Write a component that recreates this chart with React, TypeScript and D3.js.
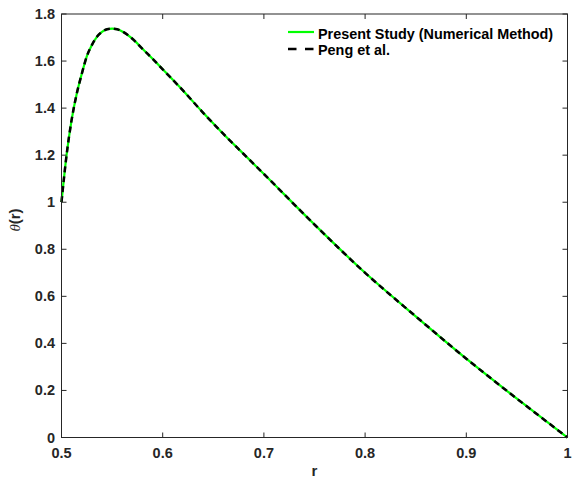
import React from "react";
import * as d3 from "d3";

const rValues = [0.5, 0.505, 0.51, 0.515, 0.52, 0.525, 0.53, 0.535, 0.54, 0.545, 0.55, 0.555, 0.56, 0.57, 0.58, 0.59, 0.6, 0.62, 0.64, 0.66, 0.68, 0.7, 0.75, 0.8, 0.85, 0.9, 0.95, 1.0];
const presentStudy = [1.0, 1.2, 1.35, 1.46, 1.545, 1.62, 1.668, 1.703, 1.724, 1.735, 1.738, 1.735, 1.726, 1.695, 1.652, 1.61, 1.565, 1.475, 1.38, 1.29, 1.205, 1.12, 0.905, 0.70, 0.515, 0.335, 0.165, 0.0];
const pengEtAl = [1.0, 1.2, 1.35, 1.46, 1.545, 1.62, 1.668, 1.703, 1.724, 1.735, 1.738, 1.735, 1.726, 1.695, 1.652, 1.61, 1.565, 1.475, 1.38, 1.29, 1.205, 1.12, 0.905, 0.70, 0.515, 0.335, 0.165, 0.0];
const xTicks = [0.5, 0.6, 0.7, 0.8, 0.9, 1];
const yTicks = [0, 0.2, 0.4, 0.6, 0.8, 1, 1.2, 1.4, 1.6, 1.8];
const legendLabels = ["Present Study (Numerical Method)", "Peng et al."];

const W = 574;
const H = 480;
const L = 61.5, R = 567.5, T = 14, B = 437.5;
const FONT = "'Liberation Sans', Arial, sans-serif";
const AX = "#262626";

export default function App() {
  const x = d3.scaleLinear().domain([0.5, 1]).range([L, R]);
  const y = d3.scaleLinear().domain([0, 1.8]).range([B, T]);
  const line = d3
    .line<number>()
    .x((_, i) => x(rValues[i]))
    .y((d) => y(d))
    .curve(d3.curveMonotoneX);
  const tl = 5;
  return (
    <svg width={W} height={H} style={{ position: "absolute", left: 0, top: 0, background: "#fff" }}>
      <rect x={0} y={0} width={W} height={H} fill="#fff" />
      <path d={line(presentStudy) || ""} fill="none" stroke="#00ff00" strokeWidth={2.2} />
      <path d={line(pengEtAl) || ""} fill="none" stroke="#000" strokeWidth={2.5} strokeDasharray="6,4" />
      <rect x={L} y={T} width={R - L} height={B - T} fill="none" stroke={AX} strokeWidth={1} />
      {xTicks.map((t) => (
        <g key={"x" + t}>
          <line x1={x(t)} x2={x(t)} y1={B} y2={B - tl} stroke={AX} />
          <line x1={x(t)} x2={x(t)} y1={T} y2={T + tl} stroke={AX} />
          <text x={x(t)} y={458} textAnchor="middle" fontFamily={FONT} fontWeight="bold" fontSize={14.5} fill={AX}>
            {String(t)}
          </text>
        </g>
      ))}
      {yTicks.map((t) => (
        <g key={"y" + t}>
          <line x1={L} x2={L + tl} y1={y(t)} y2={y(t)} stroke={AX} />
          <line x1={R} x2={R - tl} y1={y(t)} y2={y(t)} stroke={AX} />
          <text x={55} y={y(t) + 5} textAnchor="end" fontFamily={FONT} fontWeight="bold" fontSize={14.5} fill={AX}>
            {String(t)}
          </text>
        </g>
      ))}
      <text x={(L + R) / 2} y={476} textAnchor="middle" fontFamily={FONT} fontWeight="bold" fontSize={15} fill={AX}>
        r
      </text>
      <text transform={`translate(20,220) rotate(-90)`} textAnchor="middle" fontFamily={FONT} fontSize={15} fill={AX}>
        <tspan fontStyle="italic" fontFamily="'Liberation Serif', serif">θ</tspan>
        <tspan fontWeight="bold">(r)</tspan>
      </text>
      <line x1={288} x2={314} y1={32} y2={32} stroke="#00ff00" strokeWidth={2.2} />
      <text x={318} y={38.5} fontFamily={FONT} fontWeight="bold" fontSize={14.4} fill="#000">{legendLabels[0]}</text>
      <line x1={288} x2={314} y1={49} y2={49} stroke="#000" strokeWidth={2.5} strokeDasharray="8.5,8.5" />
      <text x={318} y={55} fontFamily={FONT} fontWeight="bold" fontSize={14.4} fill="#000">{legendLabels[1]}</text>
    </svg>
  );
}
